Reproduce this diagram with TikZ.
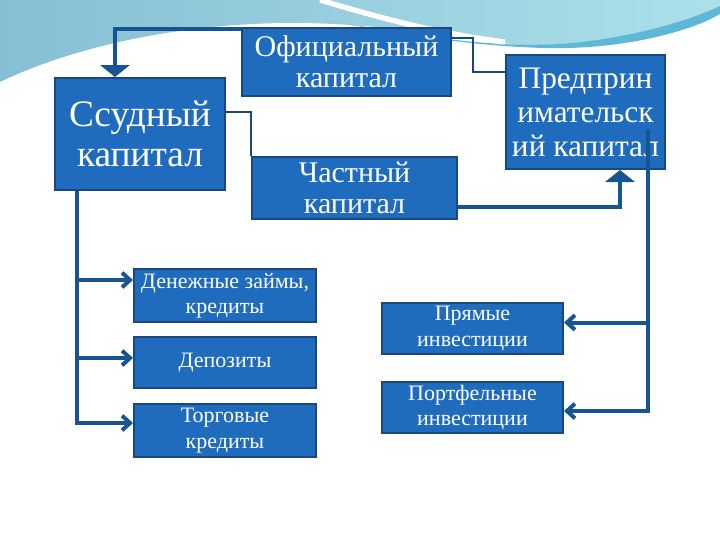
\documentclass[tikz,border=0pt]{standalone}
\usepackage{fontspec}
\setmainfont{Liberation Serif}
\usetikzlibrary{positioning,calc,arrows.meta}
\definecolor{boxblue}{RGB}{31,108,190}
\definecolor{edgeblue}{RGB}{26,72,124}
\definecolor{lineblue}{RGB}{22,84,148}
\definecolor{skyA}{RGB}{134,190,212}
\definecolor{skyB}{RGB}{172,224,234}
\definecolor{skyD}{RGB}{92,184,214}

\begin{document}
\begin{tikzpicture}[x=0.75pt,y=-0.75pt,
    bloc/.style={rectangle,draw=edgeblue,line width=1.5pt,fill=boxblue,text=white,align=center,inner sep=0pt},
    grand/.style={font=\fontsize{28}{30}\selectfont},
    moyen/.style={font=\fontsize{22.5}{23}\selectfont},
    petit/.style={font=\fontsize{16.5}{19}\selectfont},
    fleche/.style={draw=lineblue,line width=3pt},
    fin/.style={draw=edgeblue,line width=0.8pt}]

\useasboundingbox (0,0) rectangle (720,540);

% fond
\shade[left color=skyA,right color=skyB] (0,0) -- (720,0) -- (720,8) .. controls (660,38) and (580,50) .. (520,45) .. controls (450,38) and (390,24) .. (300,23) .. controls (180,22) and (70,48) .. (0,82) -- cycle;
\fill[skyD] (330,21) .. controls (420,36) and (490,48) .. (560,44) .. controls (640,38) and (700,16) .. (720,6) -- (720,14) .. controls (690,32) and (620,50) .. (545,48) .. controls (470,46) and (400,34) .. (330,21) -- cycle;
\draw[white,line width=4pt] (320,0) .. controls (380,18) and (440,34) .. (505,42);

% blocs
\node[bloc,grand,minimum width=127.5pt,minimum height=84pt] (ssud) at (140,134) {Ссудный\\капитал};
\node[bloc,moyen,minimum width=156.75pt,minimum height=51pt] (ofic) at (346.5,62) {Официальный\\капитал};
\node[bloc,moyen,minimum width=153.75pt,minimum height=46.5pt] (chast) at (354.5,188) {Частный\\капитал};
\node[bloc,font=\fontsize{23.5}{25.5}\selectfont,minimum width=119.25pt,minimum height=85.5pt] (predpr) at (585.5,112) {Предприн\\имательск\\ий капитал};

\node[bloc,petit,minimum width=136.5pt,minimum height=39.75pt] (zaim) at (225,295.5) {Денежные займы,\\кредиты};
\node[bloc,petit,minimum width=136.5pt,minimum height=38.25pt] (depoz) at (225,362.5) {Депозиты};
\node[bloc,petit,minimum width=136.5pt,minimum height=39.75pt] (torg) at (225,430.5) {Торговые\\кредиты};

\node[bloc,petit,minimum width=135.75pt,minimum height=38.25pt] (pryam) at (472.5,328.5) {Прямые\\инвестиции};
\node[bloc,petit,minimum width=135.75pt,minimum height=38.25pt] (portf) at (472.5,407.5) {Портфельные\\инвестиции};

% liaisons
\draw[fleche,-{Triangle[width=22pt,length=9pt]}] ($(ofic.north west)+(0,2)$) -| ($(ssud.north)+(-25,0)$);
\draw[fin] ($(ofic.east)+(0,-24)$) -- ++(21,0) |- ($(predpr.west)+(0,-40)$);
\draw[fin] ($(ssud.east)+(0,-22)$) -| (chast.north west);
\draw[fleche,-{Triangle[width=22pt,length=9pt]}] ($(chast.east)+(0,19)$) -| ($(predpr.south)+(34.5,0)$);

\coordinate (pdep) at ($(predpr.south east)+(-18,-40)$);
\draw[fleche,-{Straight Barb[length=6pt,width=11pt]}] (pdep) |- ($(pryam.east)+(0,-6)$);
\draw[fleche,-{Straight Barb[length=6pt,width=11pt]}] (pdep) |- ($(portf.east)+(0,3.5)$);

\coordinate (sdep) at ($(ssud.south west)+(23,0)$);
\draw[fleche,-{Straight Barb[length=6pt,width=11pt]}] (sdep) |- ($(zaim.west)+(0,-15.5)$);
\draw[fleche,-{Straight Barb[length=6pt,width=11pt]}] (sdep) |- ($(depoz.west)+(0,-4.5)$);
\draw[fleche,-{Straight Barb[length=6pt,width=11pt]}] (sdep) |- ($(torg.west)+(0,-7.5)$);

\end{tikzpicture}
\end{document}
